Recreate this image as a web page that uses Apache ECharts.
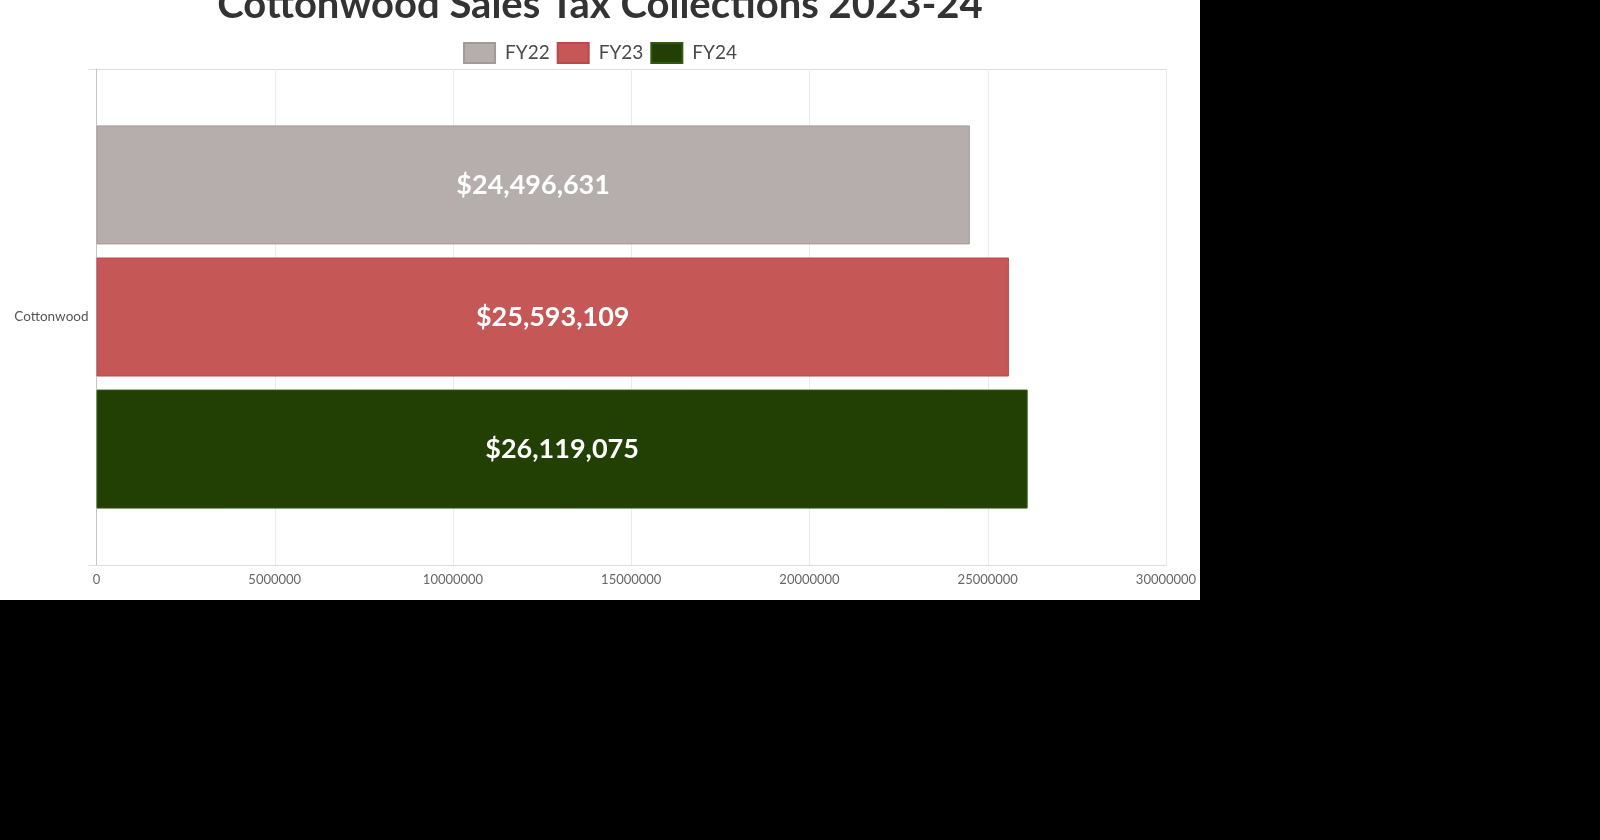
<!DOCTYPE html>
<html>
<head>
<meta charset="utf-8">
<script src="https://cdn.jsdelivr.net/npm/echarts@6/dist/echarts.min.js"></script>
<style>
html,body{margin:0;padding:0;background:#000;width:1600px;height:840px;overflow:hidden;}
#chart{position:absolute;left:0;top:0;width:1200px;height:600px;background:#fff;}
</style>
</head>
<body>
<div id="chart"></div>
<script>
const titleText = 'Cottonwood Sales Tax Collections 2023-24';
const categories = ['Cottonwood'];
const seriesNames = ['FY22', 'FY23', 'FY24'];
const fy22 = [24496631];
const fy23 = [25593109];
const fy24 = [26119075];
const seriesValues = [fy22, fy23, fy24];
const seriesColors = ['#b5aeac', '#c55757', '#224003'];
const borderColors = ['#a39a98', '#b84a4a', '#2f5a10'];

const chart = echarts.init(document.getElementById('chart'), null, {renderer: 'canvas'});
const fmt = v => '$' + Number(v).toLocaleString('en-US');

chart.setOption({
  animation: false,
  backgroundColor: '#ffffff',
  title: {
    text: titleText,
    left: 'center',
    top: -20,
    textStyle: {fontFamily: 'Lato', fontWeight: 'bold', fontSize: 40, color: '#333333'}
  },
  legend: {
    data: seriesNames,
    top: 37,
    left: 'center',
    itemWidth: 31,
    itemHeight: 20,
    itemGap: 7,
    icon: 'rect',
    textStyle: {fontFamily: 'Lato', fontSize: 19, color: '#4a4a4a', padding: [0, 0, 0, 5]}
  },
  grid: {left: 96.5, right: 34, top: 69, bottom: 35, containLabel: false},
  xAxis: {
    type: 'value',
    min: 0,
    max: 30000000,
    interval: 5000000,
    axisLine: {show: true, lineStyle: {color: '#dddddd'}},
    axisTick: {show: false},
    axisLabel: {fontFamily: 'Lato', fontSize: 13, color: '#666666', margin: 8, formatter: v => String(v)},
    splitLine: {show: true, lineStyle: {color: '#ebebeb'}}
  },
  yAxis: {
    type: 'category',
    data: categories,
    inverse: true,
    axisLine: {show: true, lineStyle: {color: '#c4c4c4'}},
    axisTick: {show: true, length: 8, lineStyle: {color: '#dddddd'}},
    axisLabel: {fontFamily: 'Lato', fontSize: 13.5, color: '#555555', margin: 8},
    splitLine: {show: true, lineStyle: {color: '#dddddd'}}
  },
  series: seriesNames.map((name, i) => ({
    name: name,
    type: 'bar',
    data: seriesValues[i],
    barWidth: 119,
    barGap: '11%',
    itemStyle: {color: seriesColors[i], borderColor: borderColors[i], borderWidth: 1},
    label: {
      show: true,
      position: 'inside',
      formatter: p => fmt(p.value),
      fontFamily: 'Lato',
      fontWeight: 'bold',
      fontSize: 27,
      color: '#ffffff'
    }
  }))
});
</script>
</body>
</html>
